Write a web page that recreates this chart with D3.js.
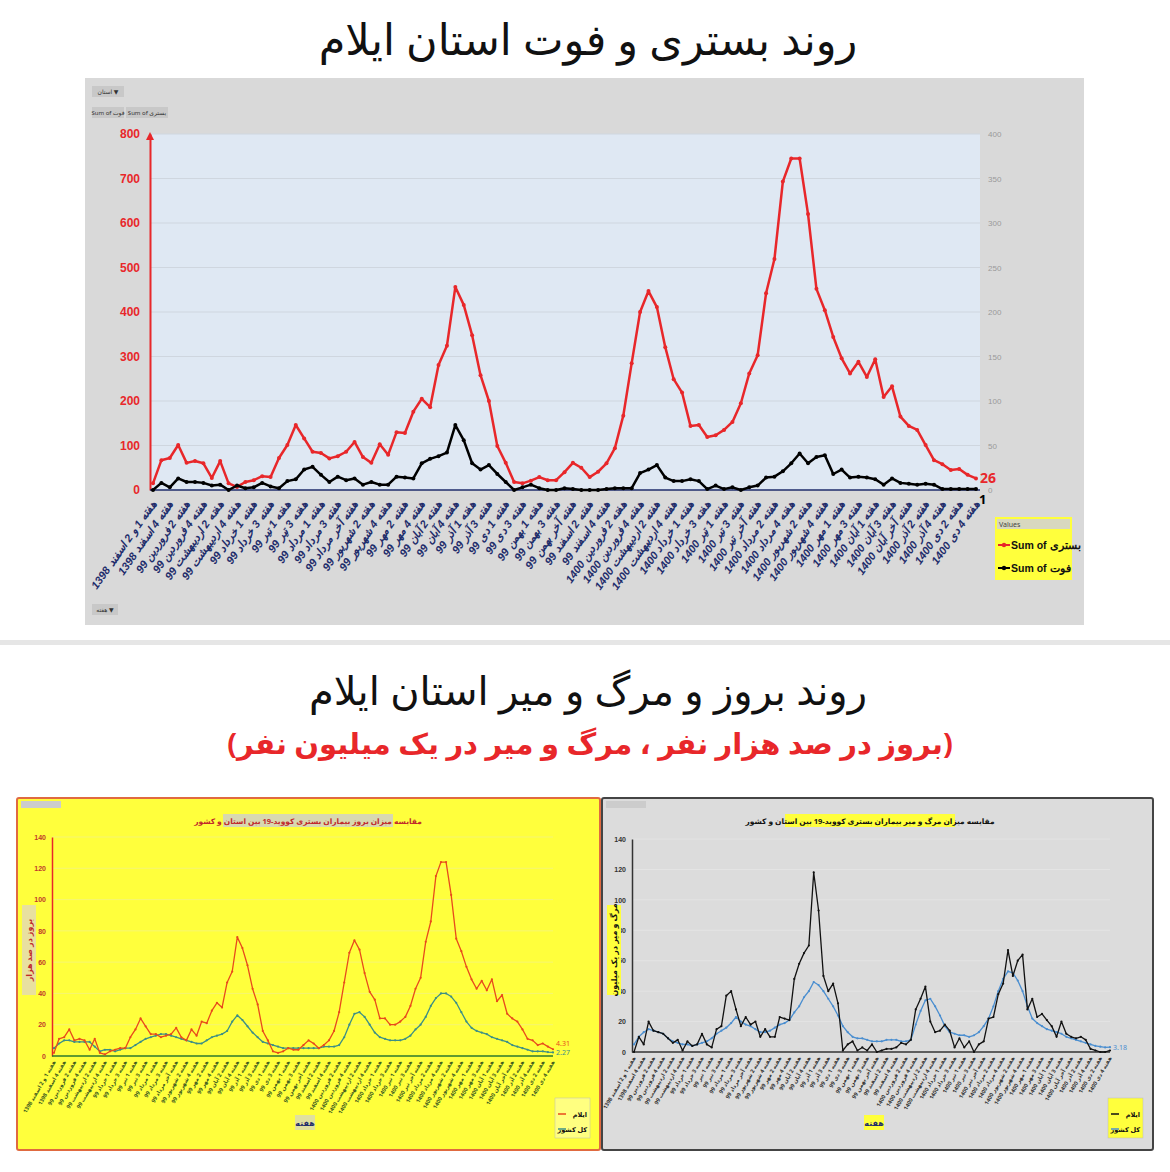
<!DOCTYPE html>
<html>
<head>
<meta charset="utf-8">
<script src="https://cdn.jsdelivr.net/npm/d3@7"></script>
<style>
  body { margin: 0; background: #fff; font-family: "Noto Sans", "DejaVu Sans", sans-serif; }
</style>
</head>
<body>
<svg id="page" width="1170" height="1172"></svg>
<script>
// weekly labels (one every two weeks)
const weekLabels = [
  "هفته 1 و 2 اسفند 1398", "هفته 4 اسفند 1398",
  "هفته 2 فروردین 99", "هفته 4 فروردین 99", "هفته 2 اردیبهشت 99", "هفته 4 اردیبهشت 99",
  "هفته 1 خرداد 99", "هفته 3 خرداد 99", "هفته 1 تیر 99", "هفته 3 تیر 99",
  "هفته 1 مرداد 99", "هفته 3 مرداد 99", "هفته آخر مرداد 99", "هفته 2 شهریور 99",
  "هفته 4 شهریور 99", "هفته 2 مهر 99", "هفته 4 مهر 99", "هفته 2 آبان 99",
  "هفته 4 آبان 99", "هفته 1 آذر 99", "هفته 3 آذر 99", "هفته 1 دی 99",
  "هفته 3 دی 99", "هفته 1 بهمن 99", "هفته 3 بهمن 99", "هفته آخر بهمن 99",
  "هفته 2 اسفند 99", "هفته 4 اسفند 99",
  "هفته 2 فروردین 1400", "هفته 4 فروردین 1400", "هفته 2 اردیبهشت 1400", "هفته 4 اردیبهشت 1400",
  "هفته 1 خرداد 1400", "هفته 3 خرداد 1400", "هفته 1 تیر 1400", "هفته 3 تیر 1400",
  "هفته آخر تیر 1400", "هفته 2 مرداد 1400", "هفته 4 مرداد 1400", "هفته 2 شهریور 1400",
  "هفته 4 شهریور 1400", "هفته 1 مهر 1400", "هفته 3 مهر 1400", "هفته 1 آبان 1400",
  "هفته 3 آبان 1400", "هفته آخر آبان 1400", "هفته 2 آذر 1400", "هفته 4 آذر 1400",
  "هفته 2 دی 1400", "هفته 4 دی 1400"
];

// top chart: hospitalised (left axis) and deaths (right axis)
const hospital = [15,67,72,101,61,65,60,27,65,15,7,18,22,31,29,72,101,146,116,86,83,71,76,86,108,74,61,103,79,130,128,176,205,186,281,324,456,416,348,258,200,99,61,18,15,21,29,22,22,40,61,50,29,41,60,94,167,285,400,447,411,321,249,219,144,146,119,123,135,153,195,262,303,442,519,693,745,745,620,452,404,344,296,262,288,254,294,209,233,165,144,135,101,67,58,45,47,34,26];
const deaths = [0,8,3,13,9,9,8,5,6,0,5,2,3,8,4,2,10,12,23,26,17,9,15,11,13,6,9,6,6,15,14,13,30,35,38,42,73,56,30,23,28,18,9,0,3,6,2,0,0,2,1,0,0,0,1,2,2,2,19,23,28,14,10,10,12,10,1,5,1,3,0,3,5,14,15,21,30,41,30,37,39,18,23,14,15,14,12,6,13,8,7,6,7,6,1,1,1,1,1];
const leftTicks = [0,100,200,300,400,500,600,700,800];
const rightTicks = [0,50,100,150,200,250,300,350,400];

// bottom-left: incidence per 100k
const incIlam = [2,11,12,17,10,11,10,4,11,2,1,3,4,5,5,12,17,24,19,14,14,12,13,14,18,12,10,17,13,22,21,29,34,31,47,54,76,69,58,43,33,16,10,3,2,3,5,4,4,7,10,8,5,7,10,16,28,47,66,74,68,53,41,36,24,24,20,20,22,25,32,43,50,73,86,115,124,124,103,75,67,57,49,43,48,42,49,35,39,27,24,22,17,11,10,7,8,6,4.31];
const incCountry = [5,8,10,10,9,9,9,9,6,3,4,4,3,4,5,5,7,9,11,12,13,14,14,13,12,11,10,9,8,8,10,12,13,14,16,22,26,23,19,15,12,9,8,7,6,5,5,5,5,5,5,5,5,6,6,6,7,12,20,27,28,25,20,15,12,11,10,10,10,11,13,17,20,25,32,37,40,40,38,34,28,22,18,16,15,14,12,11,10,9,7,6,5,4,3,3,3,2.5,2.27];

// bottom-right: mortality per 1M
const mortIlam = [0,10,5,20,14,13,12,9,6,8,1,7,4,5,12,5,3,15,17,37,40,28,17,23,18,20,10,15,10,10,23,22,21,48,58,65,70,118,93,50,40,45,32,1,5,7,1,3,1,5,0,1,2,2,3,6,5,8,28,35,43,20,13,14,18,14,3,9,3,7,0,5,7,22,23,38,45,67,50,60,64,28,35,23,25,21,17,10,20,12,10,9,10,8,2,1,0,0,1];
const mortCountry = [5,10,13,15,14,13,12,9,7,6,5,5,4,5,6,7,9,12,14,16,19,23,20,18,17,15,13,13,14,16,18,19,21,26,30,36,40,46,44,40,35,30,24,17,13,10,9,9,8,7,7,7,8,8,8,7,7,8,18,27,34,35,30,24,17,13,12,11,11,10,11,13,17,22,30,40,48,53,52,47,40,30,22,19,17,15,14,13,12,10,9,8,7,6,5,4,3.5,3,3.18];
const smallTicks = [0,20,40,60,80,100,120,140];

const svg = d3.select("#page");

// ---------- titles ----------
svg.append("text").attr("x", 588).attr("y", 55).attr("text-anchor", "middle")
  .attr("font-size", 43).attr("fill", "#111").text("روند بستری و فوت استان ایلام");
svg.append("rect").attr("x", 0).attr("y", 640).attr("width", 1170).attr("height", 5).attr("fill", "#e6e6e6");
svg.append("text").attr("x", 588).attr("y", 705).attr("text-anchor", "middle")
  .attr("font-size", 40).attr("fill", "#111").text("روند بروز و مرگ و میر استان ایلام");
svg.append("text").attr("x", 590).attr("y", 754).attr("text-anchor", "middle")
  .attr("font-size", 29).attr("font-weight", "bold").attr("fill", "#e8272a")
  .text("(بروز در صد هزار نفر ، مرگ و میر در یک میلیون نفر)");

// ---------- top chart ----------
svg.append("rect").attr("x", 85).attr("y", 78).attr("width", 999).attr("height", 547).attr("fill", "#d9d9d9");
const T = { l: 150, r: 980, t: 134, b: 490 };
svg.append("rect").attr("x", T.l).attr("y", T.t).attr("width", T.r - T.l).attr("height", T.b - T.t).attr("fill", "#dfe8f3");

const x = d3.scaleLinear().domain([0, hospital.length - 1]).range([T.l + 3, T.r - 4]);
const yL = d3.scaleLinear().domain([0, 800]).range([T.b, T.t]);
const yR = d3.scaleLinear().domain([0, 400]).range([T.b, T.t]);

svg.append("g").selectAll("line").data(leftTicks.slice(1)).join("line")
  .attr("x1", T.l).attr("x2", T.r).attr("y1", d => yL(d)).attr("y2", d => yL(d))
  .attr("stroke", "#cfd6df").attr("stroke-width", 1);

const axL = svg.append("g").attr("transform", `translate(${T.l},0)`)
  .call(d3.axisLeft(yL).tickValues(leftTicks).tickSize(0).tickPadding(10));
axL.select(".domain").attr("stroke", "#e8272a").attr("stroke-width", 2);
axL.selectAll("text").attr("fill", "#e8272a").attr("font-weight", "bold").attr("font-size", 12).attr("font-family", "Liberation Sans Narrow, Liberation Sans, sans-serif");
svg.append("path").attr("d", `M${T.l - 4},${T.t + 6}L${T.l},${T.t - 2}L${T.l + 4},${T.t + 6}Z`).attr("fill", "#e8272a");

const axR = svg.append("g").attr("transform", `translate(${T.r},0)`)
  .call(d3.axisRight(yR).tickValues(rightTicks).tickSize(0).tickPadding(8));
axR.select(".domain").remove();
axR.selectAll("text").attr("fill", "#9a9a9a").attr("font-size", 8);

svg.append("line").attr("x1", T.l).attr("x2", T.r).attr("y1", T.b).attr("y2", T.b)
  .attr("stroke", "#1f2d6b").attr("stroke-width", 1.5);

function series(g, data, xs, ys, color, w, r) {
  g.append("path").datum(data)
    .attr("d", d3.line().x((d, i) => xs(i)).y(d => ys(d)))
    .attr("fill", "none").attr("stroke", color).attr("stroke-width", w).attr("stroke-linejoin", "round");
  g.append("g").selectAll("circle").data(data).join("circle")
    .attr("cx", (d, i) => xs(i)).attr("cy", d => ys(d)).attr("r", r).attr("fill", color);
}
series(svg, hospital, x, yL, "#e8272a", 2.5, 2);
series(svg, deaths, x, yR, "#000", 2.5, 2);

svg.append("text").attr("x", x(hospital.length - 1) + 4).attr("y", yL(26) + 5)
  .attr("fill", "#e8272a").attr("font-weight", "bold").attr("font-size", 14).text("26");
svg.append("text").attr("x", x(deaths.length - 1) + 3).attr("y", T.b + 14)
  .attr("fill", "#000").attr("font-weight", "bold").attr("font-size", 13).text("1");

svg.append("g").selectAll("text").data(weekLabels).join("text")
  .attr("transform", (d, i) => `translate(${x(i * 2) + 4},${T.b + 14}) rotate(-55)`)
  .attr("text-anchor", "end").attr("font-size", 11).attr("font-weight", "bold").attr("font-style", "italic")
  .attr("font-family", "Liberation Sans Narrow, Liberation Sans, sans-serif")
  .attr("fill", "#1f2d6b").text(d => d);

// top filter buttons
[[92, 86, 32, "استان ▼"], [92, 107, 32, "Sum of فوت"], [126, 107, 42, "Sum of بستری"], [92, 604, 26, "هفته ▼"]].forEach(b => {
  svg.append("rect").attr("x", b[0]).attr("y", b[1]).attr("width", b[2]).attr("height", 11).attr("fill", "#c8c8c8");
  svg.append("text").attr("x", b[0] + b[2] / 2).attr("y", b[1] + 8).attr("text-anchor", "middle")
    .attr("font-size", 6).attr("fill", "#333").text(b[3]);
});

// top legend
const lg = svg.append("g").attr("transform", "translate(995,517)");
lg.append("rect").attr("width", 77).attr("height", 63).attr("fill", "#ffff3c");
lg.append("rect").attr("x", 2).attr("y", 2).attr("width", 73).attr("height", 10).attr("fill", "#d8d8c0");
lg.append("text").attr("x", 4).attr("y", 10).attr("font-size", 7).attr("fill", "#444").text("Values");
[["#e8272a", "Sum of بستری", 28], ["#000", "Sum of فوت", 51]].forEach(l => {
  lg.append("line").attr("x1", 3).attr("x2", 15).attr("y1", l[2]).attr("y2", l[2]).attr("stroke", l[0]).attr("stroke-width", 2);
  lg.append("circle").attr("cx", 9).attr("cy", l[2]).attr("r", 2.2).attr("fill", l[0]);
  lg.append("text").attr("x", 16).attr("y", l[2] + 4).attr("font-size", 10.5).attr("font-weight", "bold")
    .attr("font-family", "Liberation Sans Narrow, sans-serif").attr("fill", "#111").text(l[1]);
});

// ---------- bottom panels ----------
function panel(o) {
  const g = svg.append("g");
  g.append("rect").attr("x", o.x0).attr("y", 798).attr("width", o.w).attr("height", 352)
    .attr("fill", o.bg).attr("stroke", o.border).attr("stroke-width", 2).attr("rx", 2);
  const xs = d3.scaleLinear().domain([0, o.a.length - 1]).range([o.l + 2, o.r]);
  const ys = d3.scaleLinear().domain([0, 140]).range([o.b, o.t]);
  g.append("g").selectAll("line").data(smallTicks.slice(1)).join("line")
    .attr("x1", o.l).attr("x2", o.r).attr("y1", d => ys(d)).attr("y2", d => ys(d))
    .attr("stroke", o.grid).attr("stroke-width", 0.7);
  const ax = g.append("g").attr("transform", `translate(${o.l},0)`)
    .call(d3.axisLeft(ys).tickValues(smallTicks).tickSize(0).tickPadding(6));
  ax.select(".domain").attr("stroke", o.axis).attr("stroke-width", 1.5);
  ax.selectAll("text").attr("fill", o.tickColor).attr("font-size", 7).attr("font-weight", "bold");
  g.append("line").attr("x1", o.l).attr("x2", o.r).attr("y1", o.b).attr("y2", o.b).attr("stroke", o.base).attr("stroke-width", 1.5);
  series(g, o.c, xs, ys, o.cc, 1.3, 1.1);
  series(g, o.a, xs, ys, o.ac, 1.3, 1.1);
  g.append("g").selectAll("text").data(weekLabels).join("text")
    .attr("transform", (d, i) => `translate(${xs(i * 2) + 2},${o.b + 6}) rotate(-60)`)
    .attr("text-anchor", "end").attr("font-size", 5.5).attr("font-weight", "bold").attr("fill", o.lab).text(d => d);
  // title
  g.append("rect").attr("x", o.tx - 85).attr("y", 814).attr("width", 170).attr("height", 13).attr("fill", o.titleBg);
  g.append("text").attr("x", o.tx).attr("y", 824).attr("text-anchor", "middle").attr("font-size", 7.5)
    .attr("font-weight", "bold").attr("fill", o.titleColor).text(o.title);
  // y label
  g.append("rect").attr("x", o.x0 + 5).attr("y", 905).attr("width", 14).attr("height", 90).attr("fill", o.yBg);
  g.append("text").attr("transform", `translate(${o.x0 + 15},950) rotate(-90)`).attr("text-anchor", "middle")
    .attr("font-size", 8).attr("font-weight", "bold").attr("fill", o.yColor).text(o.ylab);
  // x label
  g.append("rect").attr("x", o.hx - 10).attr("y", 1115).attr("width", 20).attr("height", 15).attr("fill", o.hBg);
  g.append("text").attr("x", o.hx).attr("y", 1126).attr("text-anchor", "middle").attr("font-size", 8)
    .attr("font-weight", "bold").attr("fill", "#1f2d6b").text("هفته");
  // end values
  g.append("text").attr("x", xs(o.a.length - 1) + 3).attr("y", ys(o.a[o.a.length - 1]) - 3).attr("font-size", 7).attr("fill", o.ac).text(o.endA);
  g.append("text").attr("x", xs(o.c.length - 1) + 3).attr("y", ys(o.c[o.c.length - 1]) + 3).attr("font-size", 7).attr("fill", o.cc).text(o.endC);
  // legend
  const lgb = g.append("g").attr("transform", `translate(${o.lx},1098)`);
  lgb.append("rect").attr("width", 35).attr("height", 40).attr("fill", o.legBg).attr("stroke", "#bbb").attr("stroke-width", 0.5);
  [[o.ac, "ایلام", 16], [o.cc, "کل کشور", 31]].forEach(l => {
    lgb.append("line").attr("x1", 3).attr("x2", 11).attr("y1", l[2]).attr("y2", l[2]).attr("stroke", l[0]).attr("stroke-width", 1.5);
    lgb.append("text").attr("x", 32).attr("y", l[2] + 2.5).attr("text-anchor", "end").attr("font-size", 6.5).attr("font-weight", "bold").attr("fill", "#111").text(l[1]);
  });
  // corner button
  g.append("rect").attr("x", o.x0 + 4).attr("y", 801).attr("width", 40).attr("height", 7).attr("fill", "#ccc");
}

panel({
  x0: 17, w: 583, bg: "#ffff3c", border: "#e06a40", l: 52, r: 553, t: 837, b: 1056,
  a: incIlam, c: incCountry, ac: "#e84a1c", cc: "#3d8f86", grid: "#f0f08a", axis: "#e8272a",
  base: "#2d7a2d", tickColor: "#c0392b", lab: "#3b5a1e",
  tx: 308, title: "مقایسه میزان بروز بیماران بستری کووید-19 بین استان و کشور", titleBg: "#d8d8b0", titleColor: "#c0292b",
  ylab: "بروز در صد هزار", yBg: "#e8e0a0", yColor: "#c0292b", hx: 305, hBg: "#e0e0a0",
  endA: "4.31", endC: "2.27", lx: 555, legBg: "#ffff80"
});
panel({
  x0: 602, w: 551, bg: "#dcdcdc", border: "#444", l: 632, r: 1110, t: 839, b: 1052,
  a: mortIlam, c: mortCountry, ac: "#111", cc: "#4a8ed0", grid: "#e6e6e6", axis: "#333",
  base: "#333", tickColor: "#333", lab: "#333",
  tx: 870, title: "مقایسه میزان مرگ و میر بیماران بستری کووید-19 بین استان و کشور", titleBg: "#ffff3c", titleColor: "#111",
  ylab: "مرگ و میر در یک میلیون", yBg: "#ffff3c", yColor: "#111", hx: 874, hBg: "#ffff3c",
  endA: "", endC: "3.18", lx: 1108, legBg: "#ffff3c"
});
</script>
</body>
</html>
